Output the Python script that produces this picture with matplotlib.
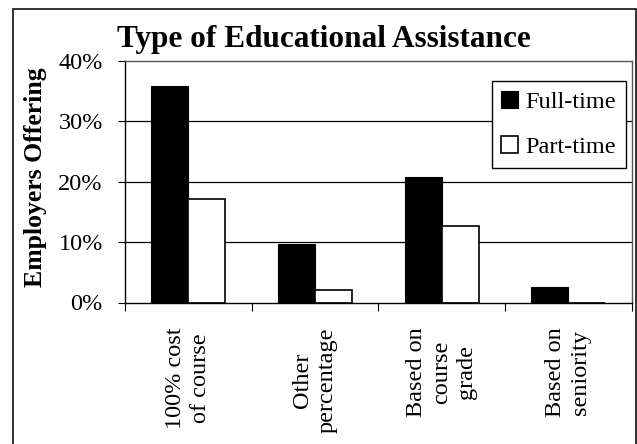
import matplotlib
matplotlib.use("Agg")
import matplotlib.pyplot as plt
from matplotlib.patches import Rectangle
import numpy as np

categories = ["100% cost\nof course", "Other\npercentage", "Based on\ncourse\ngrade", "Based on\nseniority"]
full_time = [35.8, 9.6, 20.7, 2.5]
part_time = [17.2, 2.0, 12.6, 0.0]
y_ticks = [0, 10, 20, 30, 40]
y_tick_labels = ["0%", "10%", "20%", "30%", "40%"]

plt.rcParams["font.family"] = ["Liberation Serif", "DejaVu Serif"]

W, H = 637, 444
fig = plt.figure(figsize=(W / 100, H / 100), dpi=100)
fig.patch.set_facecolor("white")

# outer border of the chart object (runs off the right/bottom of the image)
fig.patches.append(Rectangle((13 / W, -0.05), (636 - 13) / W, 1 - 9 / H + 0.05,
                             transform=fig.transFigure, fill=False,
                             edgecolor="#222222", linewidth=1.3))

ax = fig.add_axes([125 / W, (H - 302.5) / H, 506.5 / W, (302.5 - 60.7) / H])

x = np.arange(len(categories))
bw = 0.292
ax.bar(x - bw / 2, full_time, bw, color="black", edgecolor="black", linewidth=0.8,
       label="Full-time", zorder=3)
ax.bar(x + bw / 2, part_time, bw, color="white", edgecolor="black", linewidth=1.2,
       label="Part-time", zorder=3)

ax.set_xlim(-0.5, len(categories) - 0.5)
ax.set_ylim(0, 40)

ax.set_yticks(y_ticks)
ax.set_yticklabels(y_tick_labels, fontsize=17.5)
ax.tick_params(axis="y", direction="out", length=5, width=0.8, pad=11)

# tick marks between categories, labels centred under each group
ax.set_xticks(np.arange(-0.5, len(categories), 1.0))
ax.set_xticklabels([])
ax.tick_params(axis="x", which="major", direction="out", length=5.5, width=0.8)
ax.set_xticks(x, minor=True)
ax.set_xticklabels(categories, minor=True, rotation=90, fontsize=17.5,
                   va="top", ha="center", multialignment="center", linespacing=1.25)
ax.tick_params(axis="x", which="minor", length=0, pad=18)

for v in y_ticks[1:-1]:
    ax.axhline(v, color="black", linewidth=0.9, zorder=1)

for s in ["left", "bottom"]:
    ax.spines[s].set_color("black")
    ax.spines[s].set_linewidth(1.0)
for s in ["top", "right"]:
    ax.spines[s].set_color("#555555")
    ax.spines[s].set_linewidth(1.0)
ax.spines["bottom"].set_zorder(4)

fig.text(36 / W, (H - 177) / H, "Employers Offering", rotation=90, fontsize=18.5,
         fontweight="bold", ha="center", va="center")
fig.text(324 / W, (H - 47) / H, "Type of Educational Assistance", fontsize=22.5,
         fontweight="bold", ha="center", va="baseline")

leg = ax.legend(loc="upper right", bbox_to_anchor=(626 / W, 1 - 81 / H),
                bbox_transform=fig.transFigure, borderaxespad=0, fontsize=17.5,
                frameon=True, fancybox=False, framealpha=1, edgecolor="black",
                borderpad=0.4, labelspacing=0.95, handlelength=0.7, handleheight=0.7,
                handletextpad=0.3)
leg.get_frame().set_linewidth(1.0)

fig.savefig("out.png", dpi=100)
